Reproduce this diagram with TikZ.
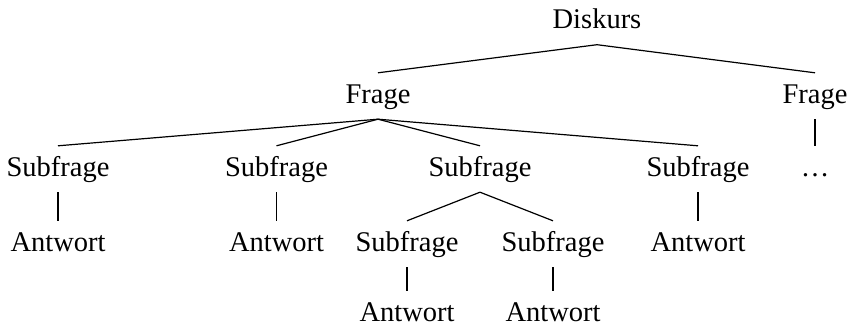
\documentclass[tikz,border=0pt]{standalone}
\usepackage{fontspec}
\setmainfont{Liberation Serif}
\begin{document}
\begin{tikzpicture}[x=1pt,y=-1pt,
  lbl/.style={anchor=base,inner xsep=0pt,inner ysep=10pt,text height=20pt,text depth=6pt,font=\fontsize{28.5}{34}\selectfont},
  edge/.style={line width=1.2pt}]
\useasboundingbox (0,0) rectangle (851,327);
\node[lbl] (d) at (597,28.5) {Diskurs};
\node[lbl] (f1) at (378,103) {Frage};
\node[lbl] (f2) at (815,103) {Frage};
\node[lbl] (s1) at (58,176) {Subfrage};
\node[lbl] (s2) at (276.5,176) {Subfrage};
\node[lbl] (s3) at (480,176) {Subfrage};
\node[lbl] (s4) at (698,176) {Subfrage};
\node[lbl] (dots) at (815,176) {…};
\node[lbl] (a1) at (58,251) {Antwort};
\node[lbl] (a2) at (276.5,251) {Antwort};
\node[lbl] (s3a) at (407,251) {Subfrage};
\node[lbl] (s3b) at (553,251) {Subfrage};
\node[lbl] (a4) at (698,251) {Antwort};
\node[lbl] (a3a) at (407,321.5) {Antwort};
\node[lbl] (a3b) at (553,321.5) {Antwort};
\draw[edge] (f1.north) -- (d.south) -- (f2.north);
\draw[edge] (f1.south) -- (s1.north);
\draw[edge] (f1.south) -- (s2.north);
\draw[edge] (f1.south) -- (s3.north);
\draw[edge] (f1.south) -- (s4.north);
\draw[edge] (f2.south) -- (dots.north);
\draw[edge] (s1.south) -- (a1.north);
\draw[edge] (s2.south) -- (a2.north);
\draw[edge] (s3a.north) -- (s3.south) -- (s3b.north);
\draw[edge] (s4.south) -- (a4.north);
\draw[edge] (s3a.south) -- (a3a.north);
\draw[edge] (s3b.south) -- (a3b.north);
\end{tikzpicture}
\end{document}
